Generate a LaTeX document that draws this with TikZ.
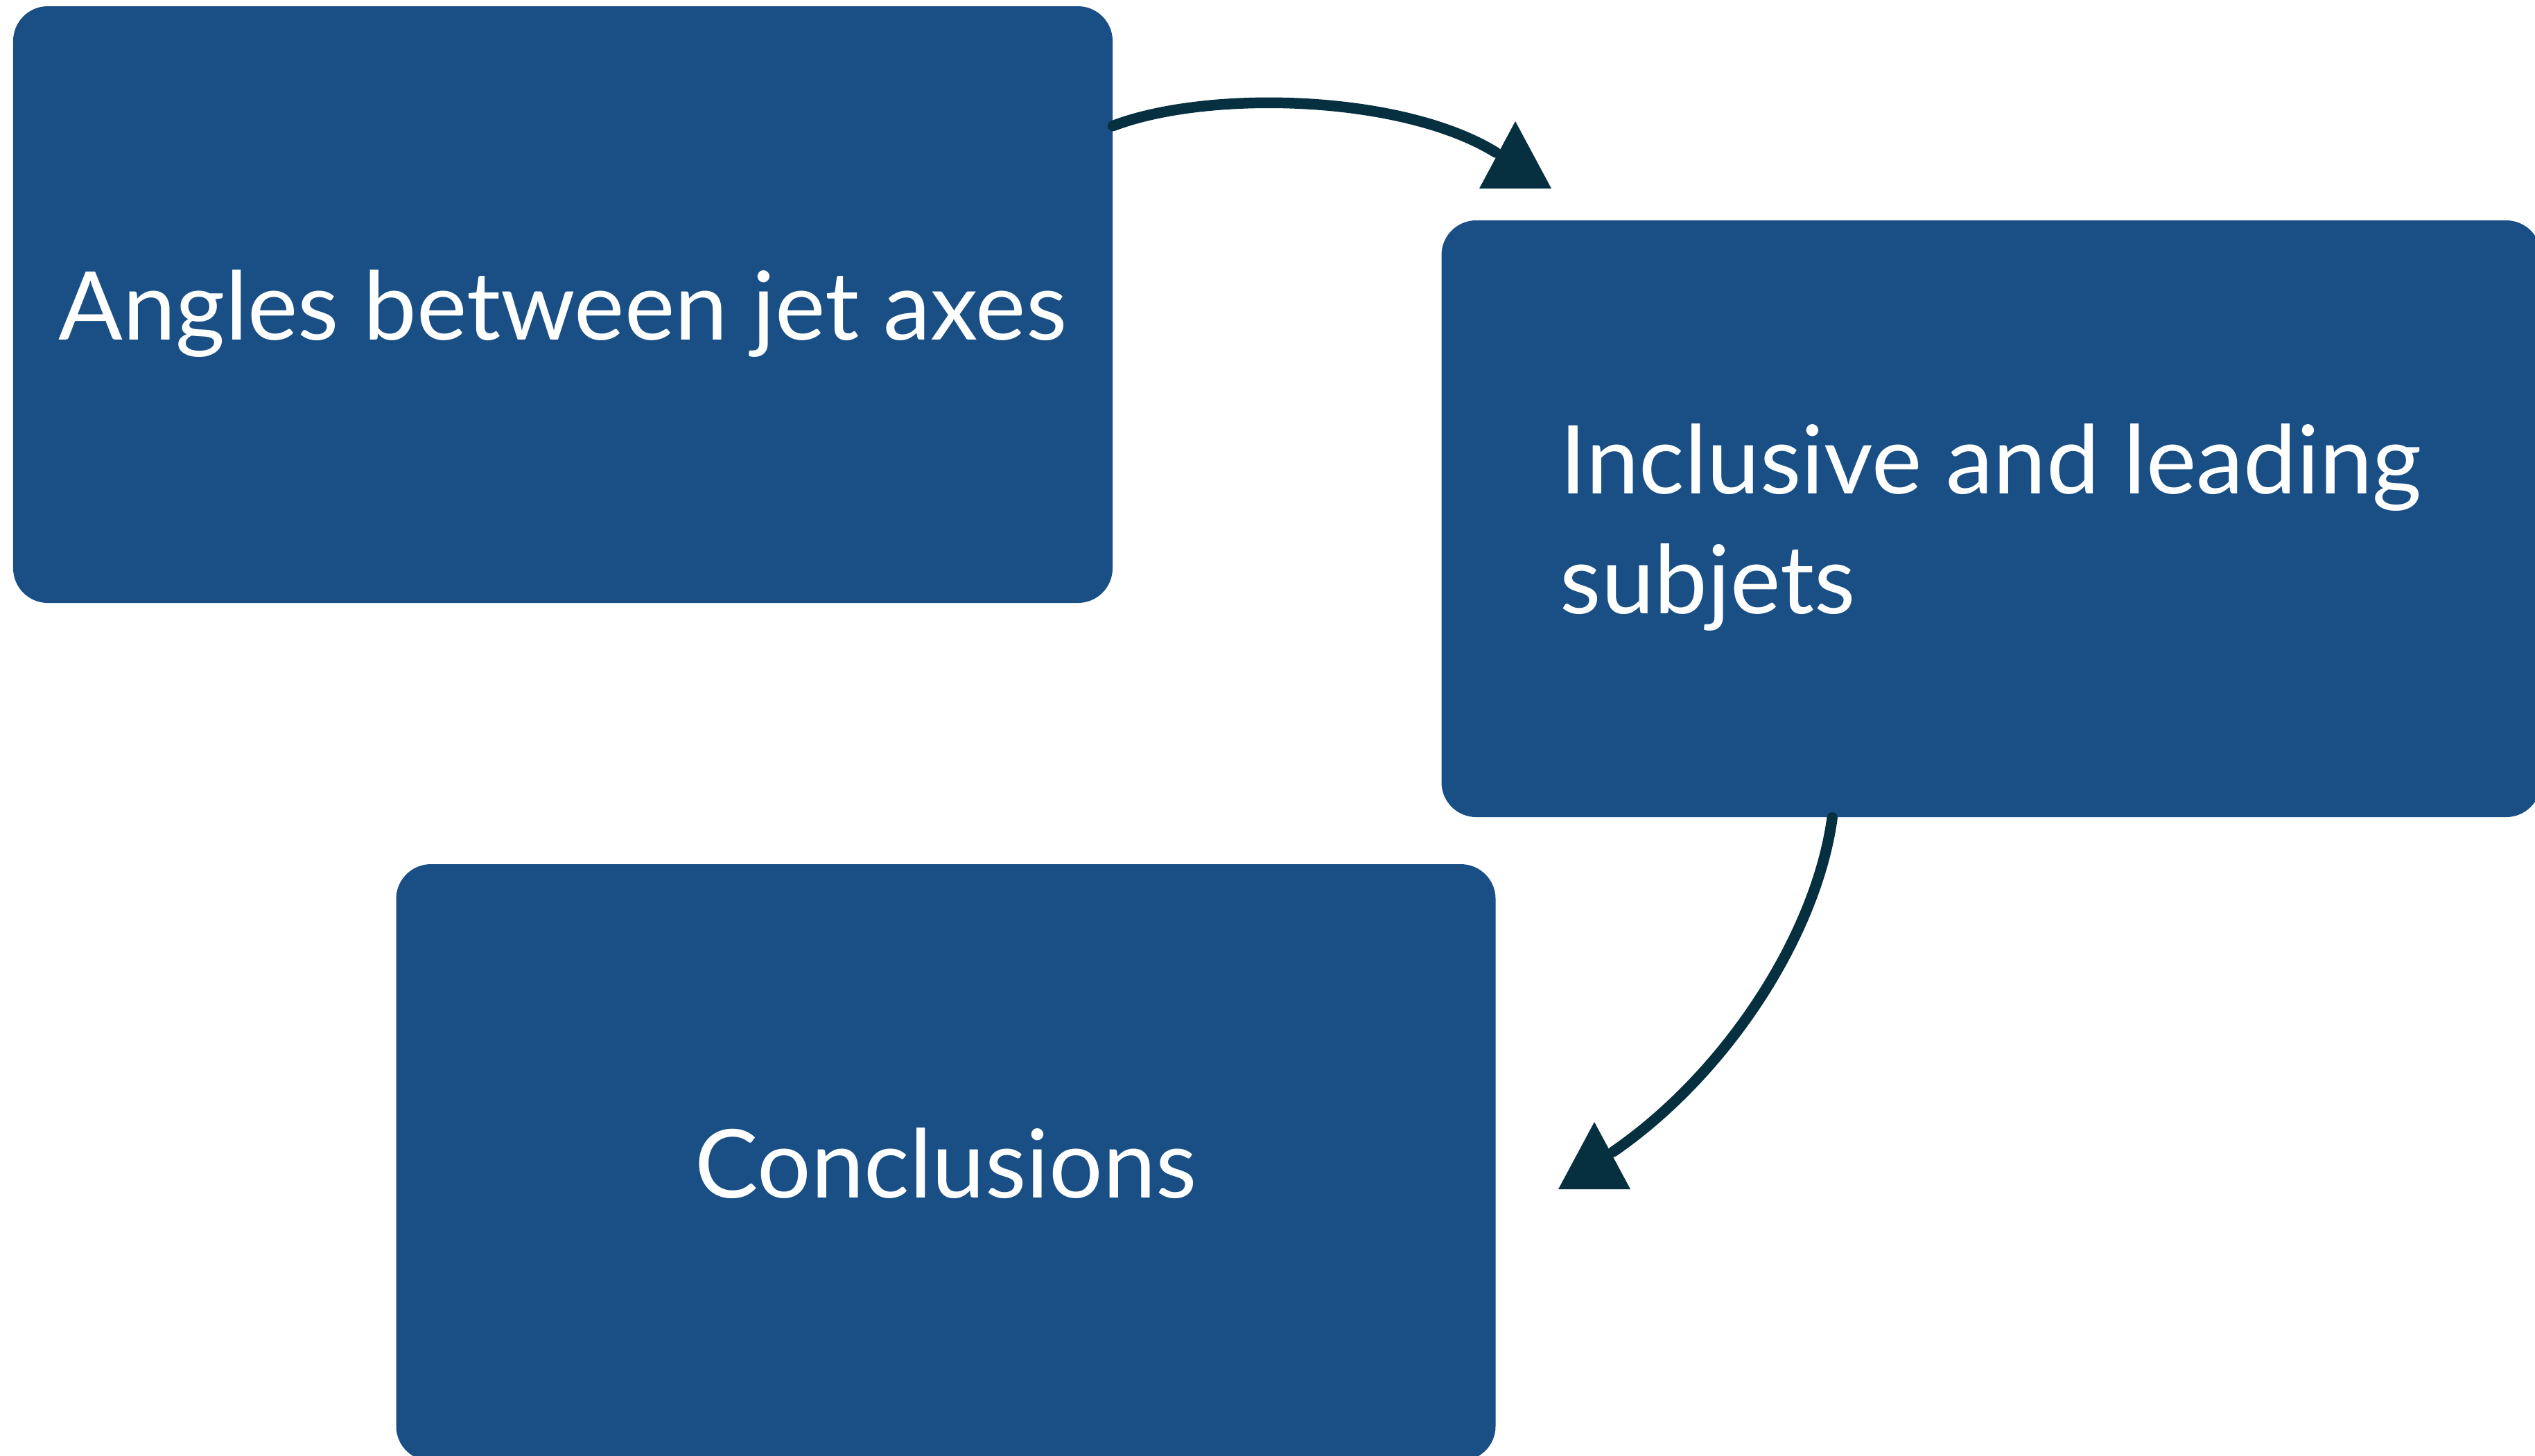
\documentclass[tikz,border=0pt]{standalone}
\usepackage{fontspec}
\setmainfont{Lato}

\definecolor{boxblue}{RGB}{25,79,133}
\definecolor{chalk}{RGB}{6,48,63}

\newcommand{\chalkhead}[1]{\fill[chalk] (#1) +(-0.52,0) -- +(0.52,0) -- +(0,0.97) -- cycle;}

\begin{document}
\begin{tikzpicture}[
    topicbox/.style={fill=boxblue, rounded corners=0.5cm, minimum width=15.86cm, minimum height=8.61cm,
        inner sep=0pt, text depth=0pt, text=white, font=\fontsize{39}{49}\selectfont},
    sketch/.style={chalk, line width=4.4pt, line cap=round}
]

\useasboundingbox (0,0) rectangle (36.57,-21);

\node[topicbox] (angles) at (8.12,-4.395) {Angles between jet axes};
\node[topicbox, align=left] (subjets) at (28.725,-7.485) {Inclusive and leading\\subjets};
\node[topicbox] (concl) at (13.645,-16.775) {Conclusions};

\coordinate (endA) at (21.58,-2.20);
\coordinate (headA) at (21.86,-2.72);
\coordinate (endB) at (23.27,-16.62);
\coordinate (headB) at (23.0,-17.16);

\draw[sketch] (angles.18) .. controls (17.4,-1.3) and (20.2,-1.35) .. (endA);
\chalkhead{headA}

\draw[sketch] (subjets.242) .. controls (26.2,-13.5) and (24.9,-15.5) .. (endB);
\chalkhead{headB}

\end{tikzpicture}
\end{document}
